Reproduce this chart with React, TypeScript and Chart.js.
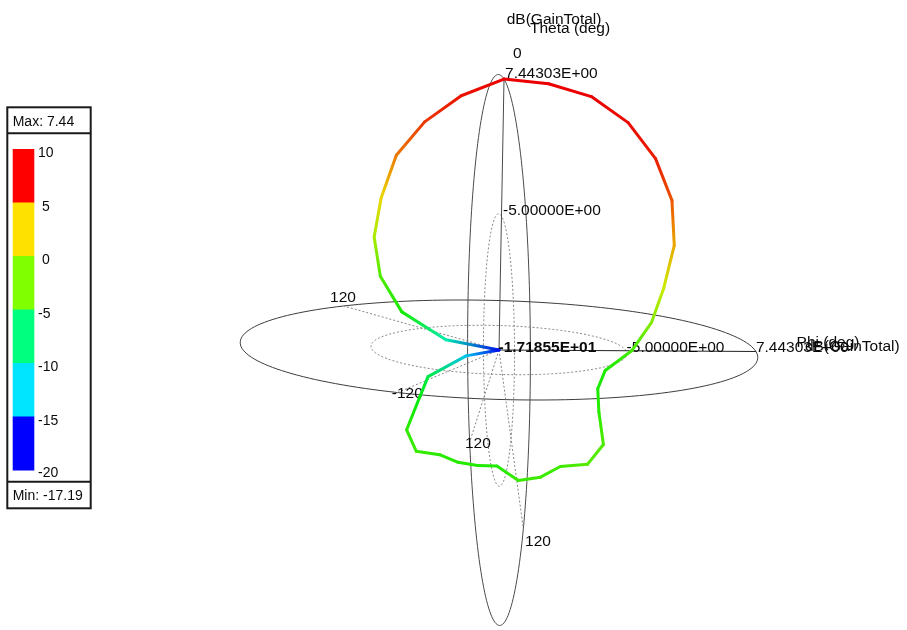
import React, { useEffect, useRef } from 'react';
import { Chart, registerables } from 'chart.js';

Chart.register(...registerables);

// Far-field cut (phi = 0 plane), theta in degrees, gain in dB
const thetaDeg = [
  0, 10, 20, 30, 40, 50, 60, 70, 80, 90, 100, 110,
  120, 130, 140, 150, 160, 170, 180, 190, 200, 210, 220, 230,
  240, 250, 260, 270, 280, 290, 300, 310, 320, 330, 340, 350,
];
const gainDb = [
  7.44303, 7.42, 7.38, 6.76, 5.63, 4.11, 2.0, -0.5, -2.4, -4.47, -6.81, -7.04,
  -6.0, -3.9, -3.68, -5.0, -4.91, -5.16, -6.64, -6.51, -6.3, -6.16, -5.12, -5.81,
  -8.5, -10.0, -14.0, -17.1855, -12.0, -7.2, -3.9, -1.3, 0.8, 3.19, 4.84, 6.26,
];

const gainMax = 7.44303;
const gainMin = -17.1855;
const gridRings = [-5];

// Colour key
const keyTicks = [10, 5, 0, -5, -10, -15, -20];
const keyColors = ['#ff0000', '#ffe100', '#7fff00', '#00ff7f', '#00e5ff', '#0000ff'];

// Trace colour ramp: [fraction from max to min, hue]
const hueStops = [
  [0, 0], [0.08, 8], [0.17, 30], [0.27, 55], [0.36, 78], [0.46, 100],
  [0.6, 115], [0.68, 128], [0.76, 155], [0.87, 190], [1, 236],
];

// Angular tick labels
const phiTicks = [120, -120];
const thetaTicks = [120, -120];

// View: screen direction (scale units, y up) of the X, Y, Z axes per dB of radius
const EX = [0.9483, -0.0055];
const EY = [-0.1144, 0.1845];
const EZ = [0.0185, 1.0];
const PX_PER_UNIT = 11;
const ORIGIN = [499, 350];
const W = 907;
const H = 630;

const FONT = '"Liberation Sans", Arial, sans-serif';
const LABEL_SIZE = 15.5;

const fmtE = (v: number) => {
  const [m, e] = v.toExponential(5).split('e');
  const n = parseInt(e, 10);
  return `${m}E${n < 0 ? '-' : '+'}${String(Math.abs(n)).padStart(2, '0')}`;
};

const hueFor = (g: number) => {
  const t = Math.min(1, Math.max(0, (gainMax - g) / (gainMax - gainMin)));
  for (let i = 1; i < hueStops.length; i++) {
    const [t0, h0] = hueStops[i - 1];
    const [t1, h1] = hueStops[i];
    if (t <= t1) return h0 + ((t - t0) / (t1 - t0)) * (h1 - h0);
  }
  return hueStops[hueStops.length - 1][1];
};
const colorFor = (g: number) => `hsl(${hueFor(g).toFixed(1)}, 100%, 46%)`;

const toUV = (x: number, y: number, z: number) => [
  x * EX[0] + y * EY[0] + z * EZ[0],
  x * EX[1] + y * EY[1] + z * EZ[1],
];

const project = (chart: any, x: number, y: number, z: number) => {
  const [u, v] = toUV(x, y, z);
  return [chart.scales.x.getPixelForValue(u), chart.scales.y.getPixelForValue(v)];
};

const rMax = gainMax - gainMin;

const patternPoints = thetaDeg.map((t, i) => {
  const r = gainDb[i] - gainMin;
  const a = (t * Math.PI) / 180;
  const [u, v] = toUV(r * Math.sin(a), 0, r * Math.cos(a));
  return { x: u, y: v };
});
const closedPoints = [...patternPoints, patternPoints[0]];
const closedGain = [...gainDb, gainDb[0]];

function strokePoly(ctx: CanvasRenderingContext2D, pts: number[][], color: string, dash: number[]) {
  ctx.save();
  ctx.beginPath();
  pts.forEach(([x, y], i) => (i ? ctx.lineTo(x, y) : ctx.moveTo(x, y)));
  ctx.strokeStyle = color;
  ctx.lineWidth = 1;
  ctx.setLineDash(dash);
  ctx.stroke();
  ctx.restore();
}

function ringPoints(chart: any, plane: 'h' | 'v', R: number) {
  const pts: number[][] = [];
  for (let d = 0; d <= 360; d += 2) {
    const a = (d * Math.PI) / 180;
    if (plane === 'h') pts.push(project(chart, R * Math.cos(a), R * Math.sin(a), 0));
    else pts.push(project(chart, 0, R * Math.sin(a), R * Math.cos(a)));
  }
  return pts;
}

function text(
  ctx: CanvasRenderingContext2D, s: string, x: number, cy: number,
  size = LABEL_SIZE, bold = false
) {
  ctx.save();
  ctx.font = `${bold ? 'bold ' : ''}${size}px ${FONT}`;
  ctx.fillStyle = '#0a0a0a';
  ctx.textAlign = 'left';
  ctx.textBaseline = 'alphabetic';
  ctx.fillText(s, x, cy + 0.358 * size);
  ctx.restore();
}

const gridPlugin = {
  id: 'polarGrid',
  beforeDatasetsDraw(chart: any) {
    const ctx: CanvasRenderingContext2D = chart.ctx;
    const center = project(chart, 0, 0, 0);
    const dotted = [2, 2];
    const solidColor = '#3c3c3c';
    const dotColor = '#858585';

    // rings at the maximum radius
    strokePoly(ctx, ringPoints(chart, 'h', rMax), solidColor, []);
    strokePoly(ctx, ringPoints(chart, 'v', rMax), '#4a4a4a', []);
    // inner grid rings
    gridRings.forEach((g) => {
      const R = g - gainMin;
      strokePoly(ctx, ringPoints(chart, 'h', R), dotColor, dotted);
      strokePoly(ctx, ringPoints(chart, 'v', R), dotColor, dotted);
    });

    // axes: phi = 0 and theta = 0
    const xEnd = project(chart, rMax, 0, 0);
    const zEnd = project(chart, 0, 0, rMax);
    strokePoly(ctx, [center, xEnd], '#222', []);
    strokePoly(ctx, [center, zEnd], '#4a4a4a', []);

    // spokes at the angular ticks
    const phiAnchors = phiTicks.map((p) => {
      const a = (p * Math.PI) / 180;
      const pt = project(chart, rMax * Math.cos(a), rMax * Math.sin(a), 0);
      strokePoly(ctx, [center, pt], dotColor, dotted);
      return pt;
    });
    const thetaAnchors = thetaTicks.map((t) => {
      const a = (t * Math.PI) / 180;
      const pt = project(chart, 0, rMax * Math.sin(a), rMax * Math.cos(a));
      strokePoly(ctx, [center, pt], dotColor, dotted);
      return pt;
    });

    // radial value labels
    text(ctx, fmtE(gainMax), zEnd[0] + 1, zEnd[1] - 6.5);
    text(ctx, fmtE(gainMax), xEnd[0], xEnd[1] - 5.5);
    gridRings.forEach((g) => {
      const R = g - gainMin;
      const zt = project(chart, 0, 0, R);
      const xt = project(chart, R, 0, 0);
      text(ctx, fmtE(g), zt[0] + 1.5, zt[1] - 7);
      text(ctx, fmtE(g), xt[0] + 0.5, xt[1] - 4.7);
    });

    // angle labels
    text(ctx, '0', zEnd[0] + 9, zEnd[1] - 26.5);
    text(ctx, String(phiTicks[0]), phiAnchors[0][0] - 13.7, phiAnchors[0][1] - 10);
    text(ctx, String(phiTicks[1]), phiAnchors[1][0] - 5.6, phiAnchors[1][1]);
    text(ctx, String(Math.abs(thetaTicks[0])), thetaAnchors[0][0] - 4.7, thetaAnchors[0][1]);
    text(ctx, String(Math.abs(thetaTicks[1])), thetaAnchors[1][0] + 1.7, thetaAnchors[1][1] + 12);

    // axis titles
    text(ctx, 'dB(GainTotal)', zEnd[0] + 2.7, zEnd[1] - 61);
    text(ctx, 'Theta (deg)', zEnd[0] + 26, zEnd[1] - 51.5);
    text(ctx, 'Phi (deg)', xEnd[0] + 40.7, xEnd[1] - 10.5);
    text(ctx, 'dB(GainTotal)', xEnd[0] + 49, xEnd[1] - 6.5);
  },
  afterDatasetsDraw(chart: any) {
    const center = project(chart, 0, 0, 0);
    text(chart.ctx, fmtE(gainMin), center[0] - 0.5, center[1] - 3.5, LABEL_SIZE, true);
  },
  afterDraw(chart: any) {
    const ctx: CanvasRenderingContext2D = chart.ctx;
    ctx.save();
    // colour key box
    const left = 7.3, top = 107.3, right = 90.7, bottom = 508.3;
    ctx.strokeStyle = '#1a1a1a';
    ctx.lineWidth = 2;
    ctx.strokeRect(left, top, right - left, bottom - top);
    ctx.beginPath();
    ctx.moveTo(left, 133.3);
    ctx.lineTo(right, 133.3);
    ctx.moveTo(left, 481.7);
    ctx.lineTo(right, 481.7);
    ctx.stroke();

    const barTop = 149, barBottom = 470;
    const step = (barBottom - barTop) / keyColors.length;
    keyColors.forEach((c, i) => {
      ctx.fillStyle = c;
      ctx.fillRect(12.7, barTop + i * step, 21.6, step + 0.5);
    });
    ctx.restore();

    text(ctx, `Max: ${gainMax.toFixed(2)}`, 12.7, 120.5, 14);
    text(ctx, `Min: ${gainMin.toFixed(2)}`, 12.7, 494.5, 14);
    keyTicks.forEach((t, i) => {
      const s = t >= 0 && t < 10 ? ` ${t}` : String(t);
      text(ctx, s, 38, barTop + i * step + (i === keyTicks.length - 1 ? 1.5 : 3.2), 14);
    });
  },
};

export default function App() {
  const ref = useRef<HTMLCanvasElement>(null);

  useEffect(() => {
    const canvas = ref.current;
    if (!canvas) return;
    const chart = new Chart(canvas, {
      type: 'scatter',
      data: {
        datasets: [
          {
            data: closedPoints,
            showLine: true,
            borderWidth: 3,
            pointRadius: 0,
            tension: 0,
            borderCapStyle: 'round',
            borderJoinStyle: 'round',
            borderColor: colorFor(gainMax),
            segment: {
              borderColor: (sc: any) => {
                const c = sc.chart.ctx as CanvasRenderingContext2D;
                const grad = c.createLinearGradient(sc.p0.x, sc.p0.y, sc.p1.x, sc.p1.y);
                grad.addColorStop(0, colorFor(closedGain[sc.p0DataIndex]));
                grad.addColorStop(1, colorFor(closedGain[sc.p1DataIndex]));
                return grad;
              },
            },
          } as any,
        ],
      },
      options: {
        responsive: false,
        animation: false,
        events: [],
        layout: { padding: 0 },
        plugins: { legend: { display: false }, tooltip: { enabled: false } },
        scales: {
          x: {
            type: 'linear',
            display: false,
            min: -ORIGIN[0] / PX_PER_UNIT,
            max: (W - ORIGIN[0]) / PX_PER_UNIT,
          },
          y: {
            type: 'linear',
            display: false,
            min: -(H - ORIGIN[1]) / PX_PER_UNIT,
            max: ORIGIN[1] / PX_PER_UNIT,
          },
        },
      },
      plugins: [gridPlugin],
    });
    return () => chart.destroy();
  }, []);

  return (
    <div style={{ position: 'fixed', left: 0, top: 0, width: W, height: H, background: '#fff' }}>
      <canvas ref={ref} width={W} height={H} style={{ display: 'block', width: W, height: H }} />
    </div>
  );
}
